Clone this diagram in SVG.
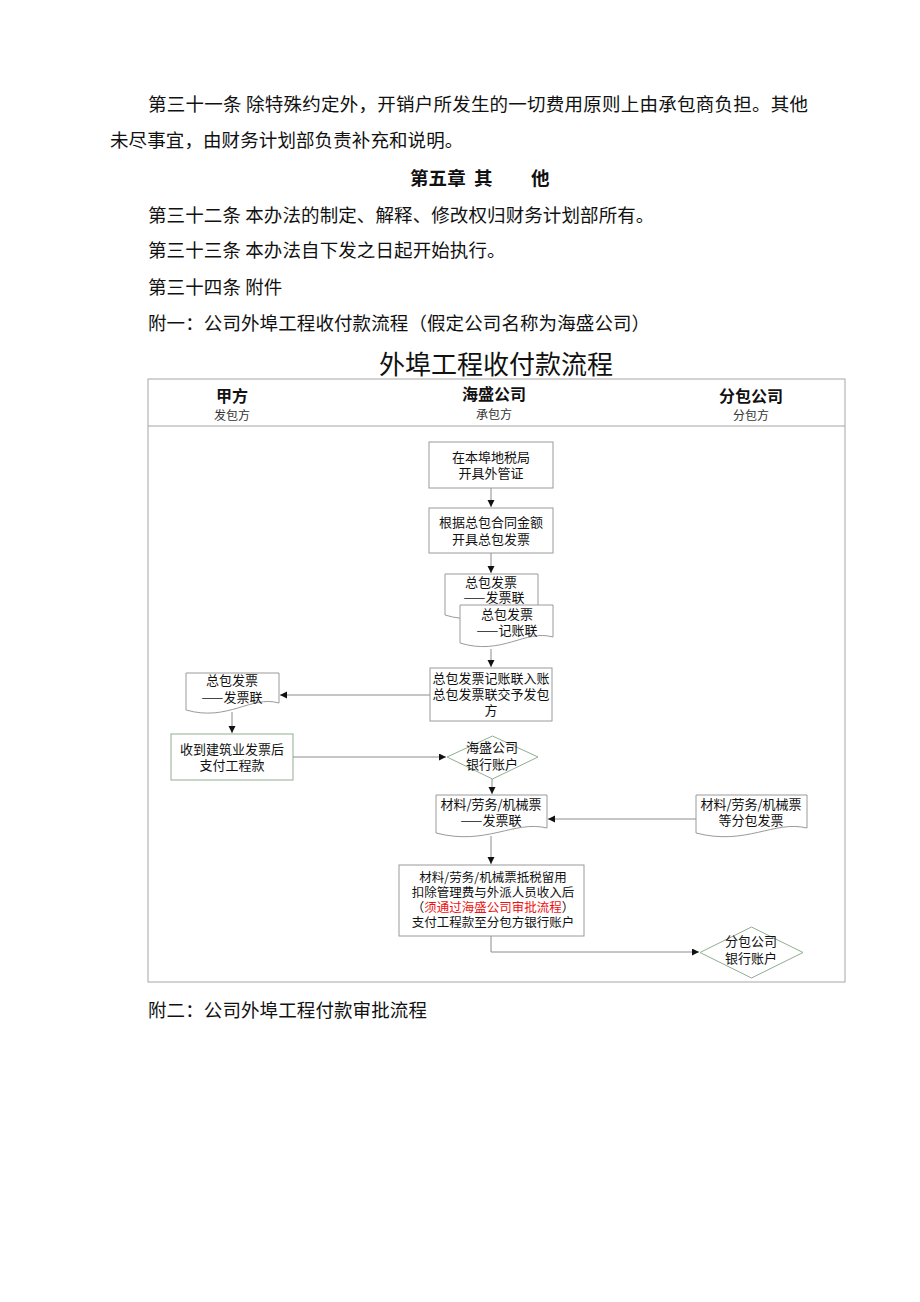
<svg xmlns="http://www.w3.org/2000/svg" width="920" height="1302" viewBox="0 0 920 1302">
<style>
.body{font-family:"Noto Sans CJK SC","Noto Sans CJK JP",sans-serif;font-size:18.5px;letter-spacing:0.1px;fill:#111}
.title{font-family:"Noto Sans CJK SC",sans-serif;font-size:26px;fill:#111;text-anchor:middle}
.hd{font-family:"Noto Sans CJK SC",sans-serif;font-size:16px;font-weight:bold;fill:#111;text-anchor:middle}
.sub{font-family:"Noto Sans CJK SC",sans-serif;font-size:12px;fill:#333;text-anchor:middle}
.t{font-family:"Noto Sans CJK SC",sans-serif;font-size:13px;fill:#111;text-anchor:middle}
.ts{font-family:"Noto Sans CJK SC",sans-serif;font-size:12.5px;fill:#111;text-anchor:middle}
.box{fill:#fff;stroke:#9a9a9a;stroke-width:1}
.gbox{fill:#fff;stroke:#8fae8f;stroke-width:1}
.frame{fill:none;stroke:#a6a6a6;stroke-width:1}
.conn{fill:none;stroke:#8c8c8c;stroke-width:1}
</style>
<defs>
<marker id="arr" markerUnits="userSpaceOnUse" markerWidth="8" markerHeight="8" refX="7" refY="3.5" orient="auto">
<path d="M0,0 L7,3.5 L0,7 z" fill="#111"/>
</marker>
</defs>

<g id="page-text">
<text class="body" x="148" y="111" textLength="660" lengthAdjust="spacing">第三十一条 除特殊约定外，开销户所发生的一切费用原则上由承包商负担。其他</text>
<text class="body" x="110" y="147">未尽事宜，由财务计划部负责补充和说明。</text>
<text class="body" x="410" y="185" font-weight="bold">第五章</text>
<text class="body" x="474" y="185" font-weight="bold">其</text>
<text class="body" x="531" y="185" font-weight="bold">他</text>
<text class="body" x="148" y="222">第三十二条 本办法的制定、解释、修改权归财务计划部所有。</text>
<text class="body" x="148" y="257">第三十三条 本办法自下发之日起开始执行。</text>
<text class="body" x="148" y="294">第三十四条 附件</text>
<text class="body" x="148" y="330">附一：公司外埠工程收付款流程（假定公司名称为海盛公司）</text>
<text class="body" x="148" y="1017">附二：公司外埠工程付款审批流程</text>
</g>

<g id="title">
<text class="title" x="496" y="374">外埠工程收付款流程</text>
</g>

<g id="frame">
<rect class="frame" x="148" y="379" width="697" height="603"/>
<line class="frame" x1="148" y1="426" x2="845" y2="426"/>
<text class="hd" x="232" y="402">甲方</text>
<text class="sub" x="232" y="420">发包方</text>
<text class="hd" x="494" y="400">海盛公司</text>
<text class="sub" x="494" y="419">承包方</text>
<text class="hd" x="751" y="402">分包公司</text>
<text class="sub" x="751" y="420">分包方</text>
</g>

<g id="connectors">
<path class="conn" d="M491 488 V507" marker-end="url(#arr)"/>
<path class="conn" d="M491 553 V573" marker-end="url(#arr)"/>
<path class="conn" d="M491 649 V667" marker-end="url(#arr)"/>
<path class="conn" d="M430 695 H280" marker-end="url(#arr)"/>
<path class="conn" d="M232 712 V733" marker-end="url(#arr)"/>
<path class="conn" d="M293 757 H446" marker-end="url(#arr)"/>
<path class="conn" d="M492 779 V794" marker-end="url(#arr)"/>
<path class="conn" d="M696 819 H548" marker-end="url(#arr)"/>
<path class="conn" d="M491 836 V864" marker-end="url(#arr)"/>
<path class="conn" d="M491 936 V952 H699" marker-end="url(#arr)"/>
</g>

<g id="n1">
<rect class="box" x="429" y="442" width="124" height="46"/>
<text class="t" x="491" y="462">在本埠地税局</text>
<text class="t" x="491" y="478">开具外管证</text>
</g>

<g id="n2">
<rect class="box" x="429" y="508" width="124" height="45"/>
<text class="t" x="491" y="527">根据总包合同金额</text>
<text class="t" x="491" y="544">开具总包发票</text>
</g>

<g id="n3">
<path class="box" d="M445 574 H538 V609 C510 601 487 628 445 615 Z"/>
<text class="t" x="491" y="587">总包发票</text>
<text class="t" x="494" y="602">——发票联</text>
</g>

<g id="n4">
<path class="box" d="M460 605 H553 V637 C525 629 502 656 460 643 Z"/>
<text class="t" x="507" y="619">总包发票</text>
<text class="t" x="507" y="635">——记账联</text>
</g>

<g id="n5">
<rect class="box" x="430" y="668" width="122" height="53"/>
<text class="t" x="491" y="683">总包发票记账联入账</text>
<text class="t" x="491" y="699">总包发票联交予发包</text>
<text class="t" x="491" y="715">方</text>
</g>

<g id="n6">
<path class="box" d="M186 673 H279 V703 C251 695 228 722 186 710 Z"/>
<text class="t" x="232" y="685">总包发票</text>
<text class="t" x="232" y="702">——发票联</text>
</g>

<g id="n7">
<rect class="gbox" x="171" y="734" width="122" height="46"/>
<text class="t" x="232" y="754">收到建筑业发票后</text>
<text class="t" x="232" y="770">支付工程款</text>
</g>

<g id="n8">
<path class="gbox" d="M447 757 L492.5 736 L538 757 L492.5 779 Z"/>
<text class="t" x="492" y="752">海盛公司</text>
<text class="t" x="492" y="769">银行账户</text>
</g>

<g id="n9">
<path class="box" d="M436 795 H547 V828 C514 820 486 846 436 833 Z"/>
<text class="t" x="491" y="809">材料/劳务/机械票</text>
<text class="t" x="491" y="825">——发票联</text>
</g>

<g id="n10">
<path class="box" d="M696 795 H807 V828 C774 820 746 846 696 833 Z"/>
<text class="t" x="751" y="809">材料/劳务/机械票</text>
<text class="t" x="751" y="825">等分包发票</text>
</g>

<g id="n11">
<rect class="box" x="399" y="865" width="185" height="71"/>
<text class="ts" x="493" y="882">材料/劳务/机械票抵税留用</text>
<text class="ts" x="493" y="897">扣除管理费与外派人员收入后</text>
<text class="ts" x="493" y="912">（<tspan fill="#ee1111">须通过海盛公司审批流程</tspan>）</text>
<text class="ts" x="493" y="927">支付工程款至分包方银行账户</text>
</g>

<g id="n12">
<path class="gbox" d="M700 952.5 L751.5 927 L803 952.5 L751.5 978 Z"/>
<text class="t" x="751" y="946">分包公司</text>
<text class="t" x="751" y="963">银行账户</text>
</g>
</svg>
